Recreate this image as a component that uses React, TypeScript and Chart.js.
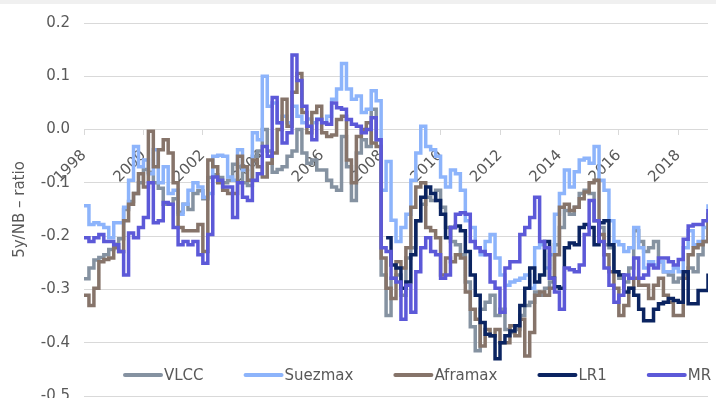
import React, { useEffect, useRef } from 'react';
import { Chart, registerables } from 'chart.js';

Chart.register(...registerables);

// x grid: bimonthly observations starting Jan 1998
const START_YEAR = 1998;
const STEPS_PER_YEAR = 6;
const LR1_START_INDEX = 61; // LR1 series begins early 2008

const X_TICK_STEP = 2;
const Y_MIN = -0.5;
const Y_MAX = 0.2;
const Y_STEP = 0.1;
const Y_TICK_LABELS = ['-0.5', '-0.4', '-0.3', '-0.2', '-0.1', '0.0', '0.1', '0.2'];

const VLCC = [
  -0.28, -0.26, -0.245, -0.24, -0.235, -0.225, -0.215, -0.205, -0.15, -0.135, -0.12, -0.1, -0.075, -0.08, -0.1,
  -0.11, -0.14, -0.14, -0.13, -0.155, -0.14, -0.15, -0.12, -0.115, -0.13, -0.09, -0.085, -0.09, -0.1, -0.095,
  -0.065, -0.07, -0.1, -0.105, -0.05, -0.04, 0.0, -0.04, -0.08, -0.075, -0.07, -0.05, -0.04,
  0.0, -0.044, -0.063, -0.057, -0.076, -0.076, -0.095, -0.108, -0.114, -0.013, -0.07, -0.133, -0.044, -0.019,
  -0.032, 0.038, -0.019, -0.273, -0.349, -0.279, -0.273, -0.311, -0.241, -0.222, -0.171, -0.14, -0.127, -0.133,
  -0.114, -0.146, -0.184, -0.21, -0.216, -0.235, -0.286, -0.37, -0.415, -0.337, -0.324, -0.311, -0.349, -0.337,
  -0.375, -0.381, -0.375, -0.349, -0.33, -0.324, -0.305, -0.311, -0.298, -0.286, -0.216, -0.184, -0.152, -0.159,
  -0.146, -0.12, -0.114, -0.12, -0.171, -0.184, -0.216, -0.222, -0.267, -0.279, -0.286, -0.26, -0.19, -0.21,
  -0.229, -0.222, -0.21, -0.248, -0.267, -0.273, -0.286, -0.279, -0.273, -0.26, -0.267, -0.235, -0.21, -0.184,
];

const SUEZMAX = [
  -0.143, -0.178, -0.175, -0.178, -0.184, -0.203, -0.175, -0.175, -0.146, -0.095, -0.032, -0.07, -0.057, -0.083,
  -0.038, -0.1, -0.07, -0.12, -0.114, -0.159, -0.14, -0.114, -0.1, -0.108, -0.127, -0.12, -0.05, -0.048, -0.05,
  -0.089, -0.095, -0.038, -0.076, -0.095, -0.006, -0.019, 0.1, 0.044, 0.05, 0.013, 0.025, 0.013, 0.044,
  0.025, 0.013, 0.02, 0.013, 0.02, 0.013, 0.025, 0.057, 0.076, 0.124, 0.076, 0.057, 0.063, 0.032, 0.038, 0.073,
  0.054, -0.114, -0.06, -0.17, -0.21, -0.184, -0.159, -0.095, -0.044, 0.006, -0.032, -0.038, -0.05, -0.089,
  -0.108, -0.076, -0.083, -0.114, -0.171, -0.184, -0.222, -0.235, -0.21, -0.197, -0.241, -0.273,
  -0.292, -0.286, -0.283, -0.279, -0.273, -0.298, -0.222, -0.216, -0.26, -0.235, -0.159, -0.12, -0.076, -0.108,
  -0.079, -0.057, -0.054, -0.063, -0.032, -0.095, -0.114, -0.171, -0.21, -0.216, -0.229, -0.222, -0.184, -0.222,
  -0.26, -0.248, -0.254, -0.248, -0.267, -0.267, -0.26, -0.267, -0.222, -0.19, -0.216, -0.21, -0.184, -0.14,
];

const AFRAMAX = [
  -0.311, -0.33, -0.298, -0.248, -0.244, -0.241, -0.222, -0.229, -0.171, -0.14, -0.12, -0.083, -0.108, -0.003,
  -0.07, -0.038, -0.019, -0.044, -0.1, -0.184, -0.19, -0.19, -0.19, -0.178, -0.229, -0.057, -0.07, -0.1, -0.114,
  -0.12, -0.12, -0.05, -0.07, -0.095, -0.057, -0.07, -0.089, -0.063, -0.044, 0.0, 0.057, 0.006, 0.07,
  0.105, 0.032, -0.006, 0.032, 0.044, -0.006, -0.013, -0.01, 0.019, 0.025, -0.057, -0.1, -0.013, 0.0, 0.013,
  -0.025, -0.032, -0.241, -0.298, -0.317, -0.248, -0.26, -0.222, -0.146, -0.108, -0.1, -0.184, -0.19, -0.203,
  -0.273, -0.241, -0.248, -0.235, -0.241, -0.305, -0.337, -0.356, -0.406, -0.375, -0.387, -0.375, -0.4,
  -0.4, -0.368, -0.387, -0.356, -0.425, -0.381, -0.311, -0.305, -0.311, -0.298, -0.235, -0.146, -0.14, -0.152,
  -0.146, -0.13, -0.117, -0.1, -0.095, -0.197, -0.235, -0.267, -0.298, -0.349, -0.33, -0.298, -0.279, -0.292,
  -0.292, -0.317, -0.292, -0.279, -0.311, -0.324, -0.349, -0.349, -0.279, -0.235, -0.222, -0.216, -0.21, -0.156,
];

const LR1 = [
  -0.203, -0.254, -0.26, -0.298, -0.286, -0.235, -0.171, -0.127, -0.108, -0.12, -0.133, -0.159, -0.203, -0.184,
  -0.181, -0.19, -0.229, -0.273, -0.311, -0.362, -0.384, -0.387, -0.43, -0.4,
  -0.387, -0.378, -0.368, -0.33, -0.298, -0.26, -0.286, -0.273, -0.21, -0.279, -0.295, -0.298, -0.222, -0.213,
  -0.216, -0.184, -0.178, -0.184, -0.216, -0.175, -0.171, -0.216, -0.267, -0.273, -0.305, -0.298, -0.311, -0.337,
  -0.359, -0.359, -0.337, -0.327, -0.324, -0.317, -0.321, -0.324, -0.267, -0.327, -0.327, -0.302, -0.302, -0.27,
];

const MR = [
  -0.203, -0.21, -0.203, -0.197, -0.21, -0.21, -0.216, -0.229, -0.273, -0.194, -0.203, -0.184, -0.165, -0.1,
  -0.175, -0.171, -0.137, -0.14, -0.184, -0.216, -0.21, -0.216, -0.21, -0.235, -0.251, -0.197, -0.089, -0.095,
  -0.108, -0.108, -0.165, -0.1, -0.127, -0.133, -0.095, -0.083, -0.032, -0.05, 0.06, 0.013, -0.025, -0.006, 0.14,
  0.092, 0.044, 0.006, -0.019, 0.019, 0.013, 0.01, 0.05, 0.041, 0.038, 0.019, 0.01, 0.006, -0.006, 0.0, 0.022,
  -0.019, -0.222, -0.229, -0.279, -0.286, -0.356, -0.292, -0.343, -0.267, -0.222, -0.203, -0.229, -0.235, -0.279,
  -0.273, -0.184, -0.159, -0.156, -0.159, -0.21, -0.222, -0.229, -0.235, -0.286, -0.298, -0.343,
  -0.26, -0.248, -0.248, -0.197, -0.184, -0.165, -0.127, -0.21, -0.222, -0.279, -0.305, -0.337, -0.26, -0.263,
  -0.267, -0.254, -0.197, -0.133, -0.171, -0.21, -0.26, -0.292, -0.324, -0.311, -0.273, -0.279, -0.241, -0.279,
  -0.273, -0.254, -0.26, -0.241, -0.241, -0.248, -0.254, -0.244, -0.206, -0.181, -0.178, -0.178, -0.171, -0.149,
];

const SERIES_LABELS = ['VLCC', 'Suezmax', 'Aframax', 'LR1', 'MR'];
const SERIES_VALUES = [VLCC, SUEZMAX, AFRAMAX, LR1, MR];
const SERIES_START = [0, 0, 0, LR1_START_INDEX, 0];
const SERIES_COLORS = ['#8592a1', '#8db4fb', '#86746a', '#0b2461', '#5c59d8'];
const Y_TITLE = '5y/NB \u2013 ratio';

const FONT = '"DejaVu Sans", "Noto Sans", sans-serif';
const TEXT_COLOR = '#595959';
const GRID_COLOR = '#d9d9d9';

const VIEW_W = 716;
const VIEW_H = 398;
const CANVAS_H = 419;

const toPoints = (values: number[], start: number) =>
  values.map((v, i) => ({ x: START_YEAR + (start + i) / STEPS_PER_YEAR, y: v }));

const topStrip = {
  id: 'topStrip',
  beforeDraw(chart: any) {
    const { ctx, width } = chart;
    ctx.save();
    ctx.fillStyle = '#f0f0f0';
    ctx.fillRect(0, 0, width, 4);
    ctx.restore();
  },
};

const insideLegend = {
  id: 'insideLegend',
  afterDraw(chart: any) {
    const { ctx, chartArea } = chart;
    ctx.save();
    ctx.font = `15px ${FONT}`;
    ctx.textBaseline = 'middle';
    ctx.textAlign = 'left';
    const y = chartArea.bottom - 21;
    let x = chartArea.left + 39;
    chart.data.datasets.forEach((ds: any) => {
      ctx.strokeStyle = ds.borderColor;
      ctx.lineWidth = 4;
      ctx.lineCap = 'round';
      ctx.beginPath();
      ctx.moveTo(x + 2, y);
      ctx.lineTo(x + 38, y);
      ctx.stroke();
      ctx.fillStyle = TEXT_COLOR;
      ctx.fillText(ds.label, x + 41, y + 1);
      x += 41 + ctx.measureText(ds.label).width + 40;
    });
    ctx.restore();
  },
};

export default function App() {
  const canvasRef = useRef<HTMLCanvasElement | null>(null);

  useEffect(() => {
    document.body.style.margin = '0';
    document.body.style.overflow = 'hidden';
    const canvas = canvasRef.current;
    if (!canvas) return;
    Chart.defaults.font.family = FONT;
    Chart.defaults.color = TEXT_COLOR;

    const datasets = SERIES_LABELS.map((label, k) => ({
      label,
      data: toPoints(SERIES_VALUES[k], SERIES_START[k]),
      borderColor: SERIES_COLORS[k],
      backgroundColor: SERIES_COLORS[k],
      borderWidth: 3.5,
      pointRadius: 0,
      pointHoverRadius: 0,
      stepped: true,
      fill: false,
      order: SERIES_LABELS.length - k,
    }));

    const lastX = START_YEAR + (VLCC.length - 1) / STEPS_PER_YEAR;

    const chart = new Chart(canvas, {
      type: 'line',
      data: { datasets },
      plugins: [topStrip, insideLegend],
      options: {
        animation: false,
        responsive: false,
        maintainAspectRatio: false,
        layout: { padding: { top: 22, right: 8, bottom: 5, left: 0 } },
        plugins: {
          legend: { display: false },
          tooltip: { enabled: false },
          title: { display: false },
        },
        scales: {
          x: {
            type: 'linear',
            position: { y: 0 },
            min: START_YEAR,
            max: lastX,
            grid: {
              display: true,
              drawOnChartArea: false,
              drawTicks: true,
              tickLength: 5,
              color: GRID_COLOR,
            },
            border: { display: false },
            ticks: {
              stepSize: X_TICK_STEP,
              includeBounds: false,
              autoSkip: false,
              maxRotation: 45,
              minRotation: 45,
              padding: 12,
              color: TEXT_COLOR,
              font: { size: 15 },
              callback: (v: any) => String(Math.round(Number(v))),
            },
          },
          y: {
            type: 'linear',
            min: Y_MIN,
            max: Y_MAX,
            grid: { color: GRID_COLOR, drawTicks: false, lineWidth: 1 },
            border: { display: false },
            ticks: {
              stepSize: Y_STEP,
              padding: 14,
              color: TEXT_COLOR,
              font: { size: 15 },
              callback: (_v: any, index: number) => Y_TICK_LABELS[index] ?? '',
            },
            title: {
              display: true,
              text: Y_TITLE,
              color: TEXT_COLOR,
              font: { size: 15 },
              padding: { top: 11, bottom: 0 },
            },
            afterFit: (scale: any) => {
              scale.width = 84;
            },
          },
        },
      },
    });

    return () => chart.destroy();
  }, []);

  return (
    <div style={{ width: VIEW_W, height: VIEW_H, overflow: 'hidden', position: 'relative', background: '#fff' }}>
      <canvas ref={canvasRef} width={VIEW_W} height={CANVAS_H} style={{ display: 'block' }} />
    </div>
  );
}
